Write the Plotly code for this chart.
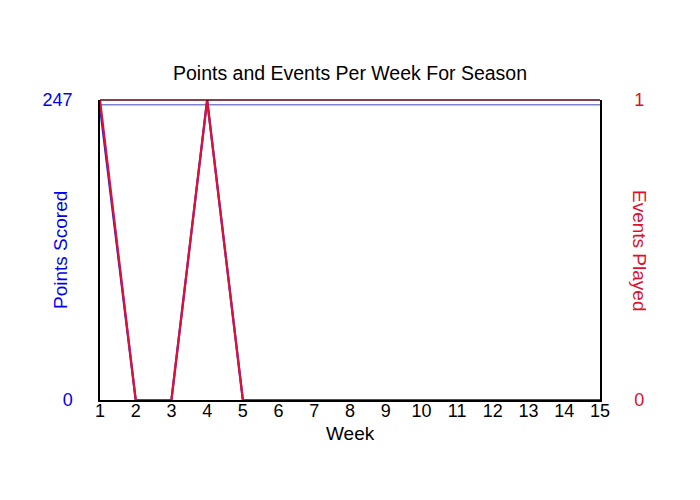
import plotly.graph_objects as go

weeks = list(range(1, 16))
points = [241, 0, 0, 247, 0, 0, 0, 0, 0, 0, 0, 0, 0, 0, 0]
events = [1, 0, 0, 1, 0, 0, 0, 0, 0, 0, 0, 0, 0, 0, 0]
points_max = 247
events_max = 1
ref_value = 243

BLUE = "#0000ee"
RED = "#e0102a"
FONT = "Liberation Sans, Arial, sans-serif"

fig = go.Figure()
fig.add_trace(go.Scatter(x=weeks, y=points, mode="lines", yaxis="y",
                         line=dict(color="#2a20c8", width=2.2), showlegend=False))
fig.add_trace(go.Scatter(x=weeks, y=events, mode="lines", yaxis="y2",
                         line=dict(color="#e01035", width=2.2), showlegend=False))

fig.add_shape(type="line", xref="x", yref="y", x0=weeks[0], x1=weeks[-1],
              y0=ref_value, y1=ref_value, line=dict(color="#8080d0", width=1.5), layer="below")
fig.add_shape(type="line", xref="paper", yref="paper", x0=0, x1=1, y0=1, y1=1,
              line=dict(color="#600010", width=1.5), layer="above")

fig.update_layout(
    width=700, height=500,
    margin=dict(l=92, r=108, t=92, b=108),
    paper_bgcolor="white", plot_bgcolor="white",
    font=dict(family=FONT, size=18, color="black"),
    title=dict(text="Points and Events Per Week For Season", x=92 / 700 + 250 / 700, xanchor="center",
               y=1 - 65 / 500, yanchor="middle", font=dict(size=19.5, color="black")),
    xaxis=dict(range=[weeks[0], weeks[-1]], tickvals=weeks, ticks="", showgrid=False,
               zeroline=False, showline=True, linecolor="black", linewidth=1.5,
               tickfont=dict(size=18, color="black"), ticklabelstandoff=-6),
    yaxis=dict(range=[0, points_max], tickvals=[0, points_max], ticks="", showgrid=False,
               zeroline=False, showline=True, linecolor="black", linewidth=1.5,
               tickfont=dict(size=18, color=BLUE), ticklabelstandoff=22),
    yaxis2=dict(range=[0, events_max], tickvals=[0, events_max], overlaying="y", side="right",
                ticks="", showgrid=False,
                zeroline=False, showline=True, linecolor="black", linewidth=1.5,
                tickfont=dict(size=18, color=RED), ticklabelstandoff=29),
    annotations=[
        dict(text="Week", xref="paper", yref="paper", x=0.5, y=-33 / 300, showarrow=False,
             xanchor="center", yanchor="middle", font=dict(size=19, color="black")),
        dict(text="Points Scored", xref="paper", yref="paper", x=-40 / 500, y=0.5,
             showarrow=False, textangle=-90, xanchor="center", yanchor="middle",
             font=dict(size=19, color=BLUE)),
        dict(text="Events Played", xref="paper", yref="paper", x=1 + 40 / 500, y=0.5,
             showarrow=False, textangle=90, xanchor="center", yanchor="middle",
             font=dict(size=19, color=RED)),
    ],
)

fig.write_html("out.html")
